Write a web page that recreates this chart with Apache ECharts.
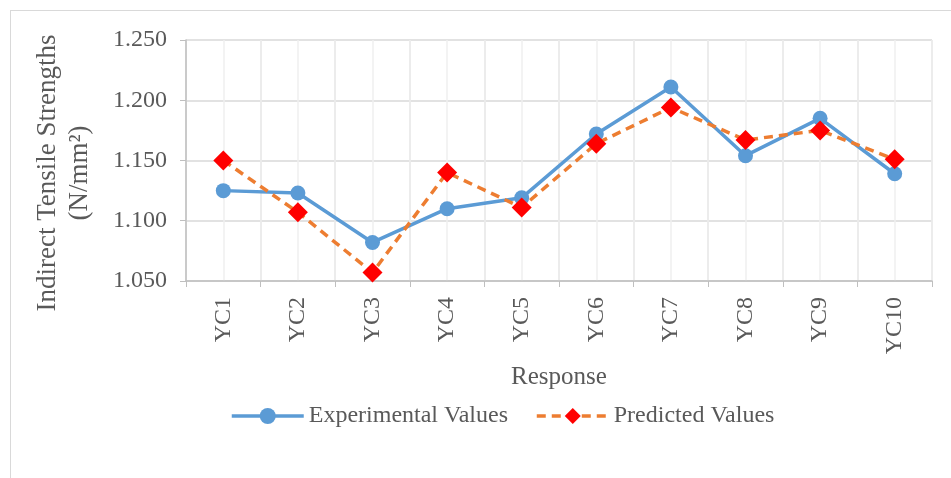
<!DOCTYPE html>
<html><head><meta charset="utf-8">
<script src="https://cdn.jsdelivr.net/npm/echarts@6/dist/echarts.min.js"></script>
<style>
html,body{margin:0;padding:0;background:#fff;}
#frame{position:absolute;left:10px;top:10px;width:960px;height:500px;border:1px solid #d9d9d9;box-sizing:border-box;}
#c{position:absolute;left:0;top:0;width:951px;height:478px;}
</style></head>
<body>
<div id="frame"></div>
<div id="c"></div>
<script>
const categories = ['YC1','YC2','YC3','YC4','YC5','YC6','YC7','YC8','YC9','YC10'];
const experimental = [1.125,1.123,1.082,1.110,1.119,1.172,1.211,1.154,1.185,1.139];
const predicted = [1.150,1.107,1.057,1.140,1.111,1.164,1.194,1.167,1.175,1.151];
const yTicks = {min:1.05, max:1.25, interval:0.05};
const yTitle = ['Indirect Tensile Strengths', '(N/mm²)'];

const font = 'Liberation Serif';
const txt = '#595959';
const chart = echarts.init(document.getElementById('c'));
chart.setOption({
  animation:false,
  grid:{left:186,right:19,top:40,bottom:197},
  graphic:[
    {type:'text', x:48, y:173, rotation:Math.PI/2,
     style:{text:yTitle[0], fill:txt, font:'27px "Liberation Serif"', align:'center', verticalAlign:'middle'}},
    {type:'text', x:80, y:173, rotation:Math.PI/2,
     style:{text:yTitle[1], fill:txt, font:'27px "Liberation Serif"', align:'center', verticalAlign:'middle'}}
  ],
  legend:{
    data:['Experimental Values','Predicted Values'],
    left:225, top:399, itemWidth:72, itemHeight:20, itemGap:27,
    lineStyle:{width:3.5},
    textStyle:{fontFamily:font,fontSize:24,color:txt}
  },
  xAxis:[{
    type:'category', data:categories, boundaryGap:true,
    name:'Response', nameLocation:'middle', nameGap:84,
    nameTextStyle:{fontFamily:font,fontSize:25,color:txt},
    axisLine:{lineStyle:{color:'#bfbfbf',width:1.5}},
    axisTick:{show:true,length:6,lineStyle:{color:'#bfbfbf'}},
    axisLabel:{rotate:90,fontFamily:font,fontSize:24,color:txt,margin:16},
    splitLine:{show:true,lineStyle:{color:'#d9d9d9',width:1.5}}
  },{
    type:'value', min:0, max:20, interval:1, show:true,
    axisLine:{show:false}, axisTick:{show:false}, axisLabel:{show:false},
    splitLine:{show:true,lineStyle:{color:'#efefef',width:1.5}}, z:0
  }],
  yAxis:{
    type:'value', min:yTicks.min, max:yTicks.max, interval:yTicks.interval,
    axisLine:{show:true,lineStyle:{color:'#bfbfbf',width:1.5}},
    axisTick:{show:true,length:6,lineStyle:{color:'#bfbfbf'}},
    axisLabel:{fontFamily:font,fontSize:24,color:txt,margin:19,formatter:v=>v.toFixed(3)},
    splitLine:{lineStyle:{color:'#d9d9d9',width:1.5}}
  },
  series:[{
    name:'Experimental Values', type:'line', data:experimental,
    symbol:'circle', symbolSize:15,
    lineStyle:{color:'#5b9bd5',width:3.5},
    itemStyle:{color:'#5b9bd5'}, z:3
  },{
    name:'Predicted Values', type:'line', data:predicted,
    symbol:'diamond', symbolSize:[20,20],
    lineStyle:{color:'#ed7d31',width:3.5,type:[9,6]},
    itemStyle:{color:'#ff0000'}, z:4
  }]
});
</script>
</body></html>
